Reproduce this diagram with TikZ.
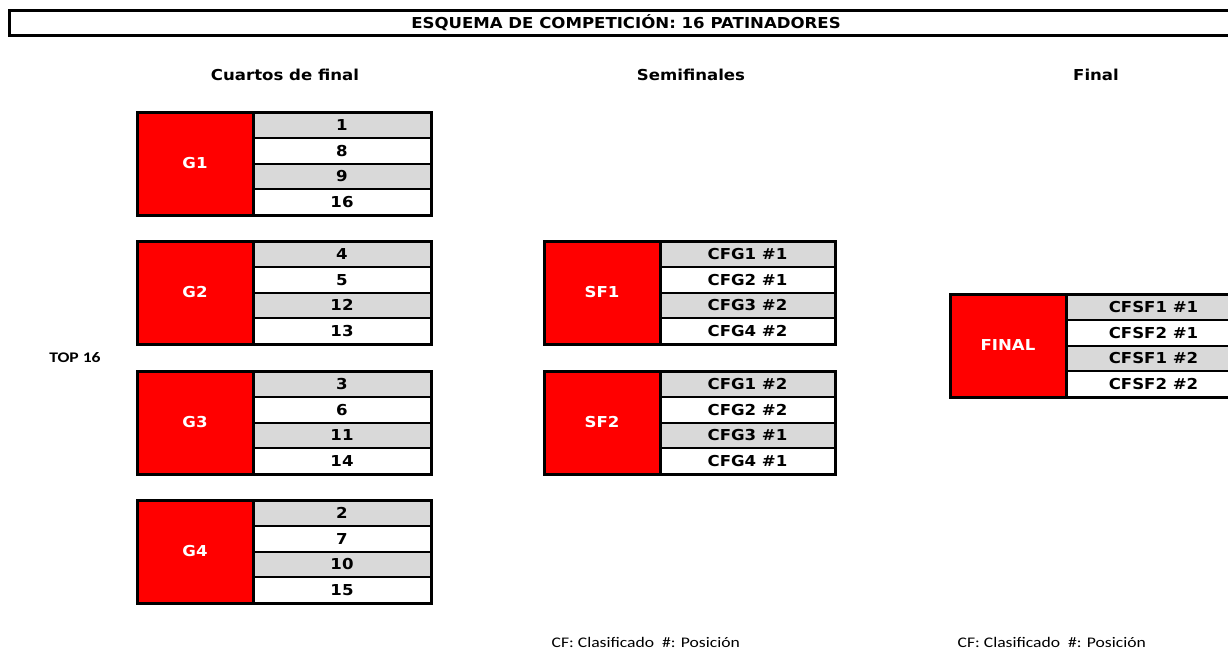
\documentclass[tikz,border=0pt]{standalone}
\usepackage{fontspec}
\setmainfont[FakeStretch=1.1]{DejaVu Sans}
\newfontfamily\calibri[FakeStretch=1.2]{Carlito}
\usetikzlibrary{positioning}

\definecolor{rojo}{rgb}{1.000000, 0.000000, 0.000000}
\definecolor{gris}{rgb}{0.850980, 0.850980, 0.850980}

\newlength{\du}
\setlength{\du}{0.75pt}

\tikzset{
  titulo/.style={font=\fontsize{11.3}{13}\selectfont\bfseries},
  bloque/.style={fill=rojo, text=white, inner sep=0pt, outer sep=0pt,
    minimum width=116\du, minimum height=103\du,
    font=\fontsize{11.3}{13}\selectfont\bfseries},
  celda/.style={draw=black, line width=1.5pt, inner sep=0pt, outer sep=0pt,
    minimum height=25.75\du, font=\fontsize{11.3}{13}\selectfont\bfseries},
  nota/.style={font=\calibri\fontsize{11}{13}\selectfont, anchor=west}
}

% grupo: nombre, x, y, ancho, etiqueta, cuatro filas
\newcommand{\grupo}[9]{
  \node[bloque] (#1) at (#2\du+58\du,#3\du+51.5\du) {#5};
  \node[celda, fill=gris, minimum width=#4\du, anchor=north west] (#1a) at (#2\du+116\du,#3\du) {#6};
  \node[celda, fill=white, minimum width=#4\du, anchor=north west] (#1b) at (#1a.south west) {#7};
  \node[celda, fill=gris, minimum width=#4\du, anchor=north west] (#1c) at (#1b.south west) {#8};
  \node[celda, fill=white, minimum width=#4\du, anchor=north west] (#1d) at (#1c.south west) {#9};
  \draw[line width=2.25pt] (#1.north west) rectangle (#1d.south east);
  \draw[line width=2.25pt] (#1.north east) -- (#1.south east);
}

\begin{document}
\begin{tikzpicture}
\pgftransformyscale{-1.000000}
\clip (0\du,0\du) rectangle (1228\du,650\du);
\useasboundingbox (0\du,0\du) rectangle (1228\du,650\du);

% titulo
\draw[line width=2.25pt] (1240\du,10\du) -- (9.5\du,10\du) -- (9.5\du,35.5\du) -- (1240\du,35.5\du);
\node[titulo] (tit) at (626\du,23\du) {ESQUEMA DE COMPETICIÓN: 16 PATINADORES};

% encabezados
\node[titulo] (cuartos) at (285\du,75\du) {Cuartos de final};
\node[titulo] (semis) at (691\du,75\du) {Semifinales};
\node[titulo] (final) at (1096\du,75\du) {Final};
\node[font=\calibri\fontsize{11}{13}\selectfont\bfseries] (top) at (75\du,358\du) {TOP 16};

% cuartos de final
\grupo{g1}{137}{112}{178}{G1}{1}{8}{9}{16}
\grupo{g2}{137}{241}{178}{G2}{4}{5}{12}{13}
\grupo{g3}{137}{371}{178}{G3}{3}{6}{11}{14}
\grupo{g4}{137}{500}{178}{G4}{2}{7}{10}{15}

% semifinales
\grupo{sf1}{544}{241}{175}{SF1}{CFG1 \#1}{CFG2 \#1}{CFG3 \#2}{CFG4 \#2}
\grupo{sf2}{544}{371}{175}{SF2}{CFG1 \#2}{CFG2 \#2}{CFG3 \#1}{CFG4 \#1}

% final
\grupo{fin}{950}{294}{175}{FINAL}{CFSF1 \#1}{CFSF2 \#1}{CFSF1 \#2}{CFSF2 \#2}

% notas
\node[nota] (nota1) at (547\du,642\du) {CF: Clasificado \ \#: Posición};
\node[nota] (nota2) at (953\du,642\du) {CF: Clasificado \ \#: Posición};
\end{tikzpicture}
\end{document}
